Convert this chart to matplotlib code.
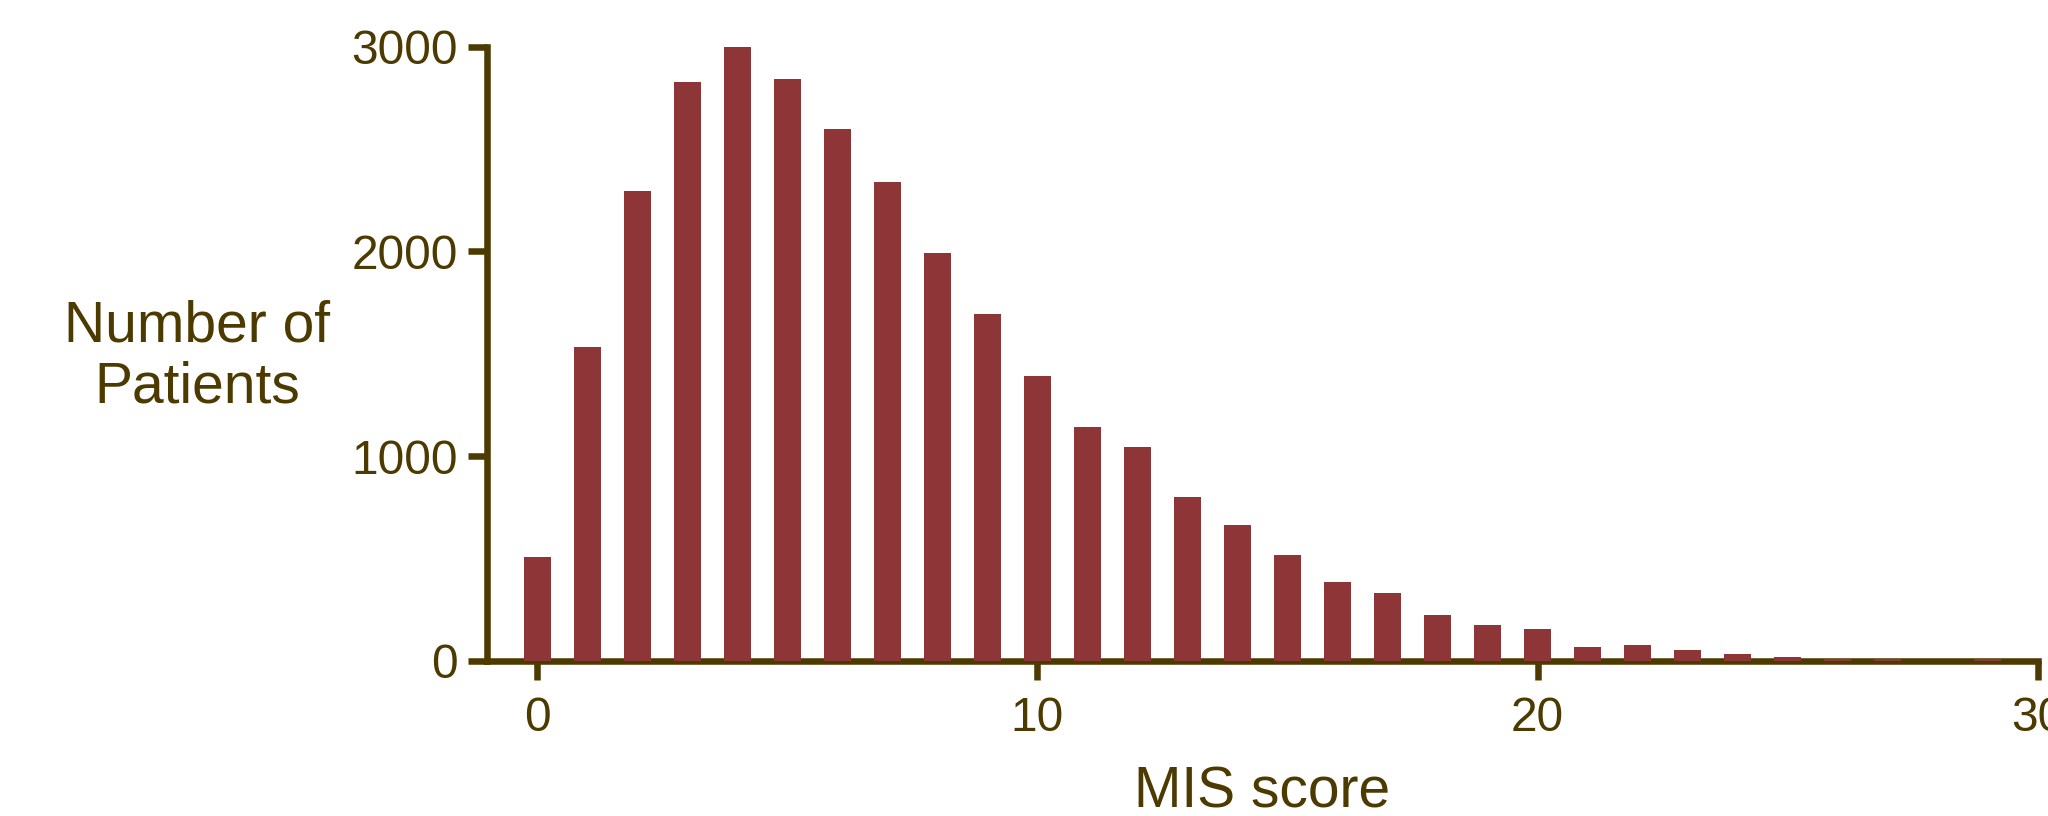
import matplotlib
matplotlib.use("Agg")
import matplotlib.pyplot as plt

# Data
mis_score = list(range(0, 30))
patients = [510, 1533, 2293, 2826, 3003, 2843, 2598, 2337, 1991, 1693,
            1393, 1141, 1043, 801, 663, 516, 387, 331, 225, 176,
            155, 68, 77, 52, 34, 20, 11, 11, 0, 10]
x_ticks = [0, 10, 20, 30]
y_ticks = [0, 1000, 2000, 3000]

bar_color = "#8E3538"
axis_color = "#4D3A00"

plt.rcParams['font.family'] = ['Liberation Sans', 'DejaVu Sans']

fig = plt.figure(figsize=(20.48, 8.16), dpi=100)
ax = fig.add_axes([487/2048, (816-661)/816, (2038-487)/2048, (661-46.7)/816])

ax.bar(mis_score, patients, width=0.54, color=bar_color, zorder=3)

ax.set_xlim(-1, 30)
ax.set_ylim(0, 3000)
ax.set_xticks(x_ticks)
ax.set_yticks(y_ticks)

for side in ["top", "right"]:
    ax.spines[side].set_visible(False)
for side in ["left", "bottom"]:
    ax.spines[side].set_color(axis_color)
    ax.spines[side].set_linewidth(4.7)
    ax.spines[side].set_capstyle("projecting")

ax.tick_params(axis="both", colors=axis_color, width=4.7, length=14,
               labelsize=34.5, labelcolor=axis_color)
ax.tick_params(axis="y", pad=7)
ax.tick_params(axis="x", pad=11)

ax.set_xlabel("MIS score", fontsize=41, color=axis_color)
ax.xaxis.set_label_coords(0.5, (661 - 808) / 614.3)
ax.xaxis.label.set_verticalalignment("baseline")

ax.set_ylabel("Number of\nPatients", fontsize=41, color=axis_color,
              rotation=0, ha="center", va="center", linespacing=1.17)
ax.yaxis.set_label_coords(-0.187, 0.495)

fig.savefig("out.png", dpi=100)
